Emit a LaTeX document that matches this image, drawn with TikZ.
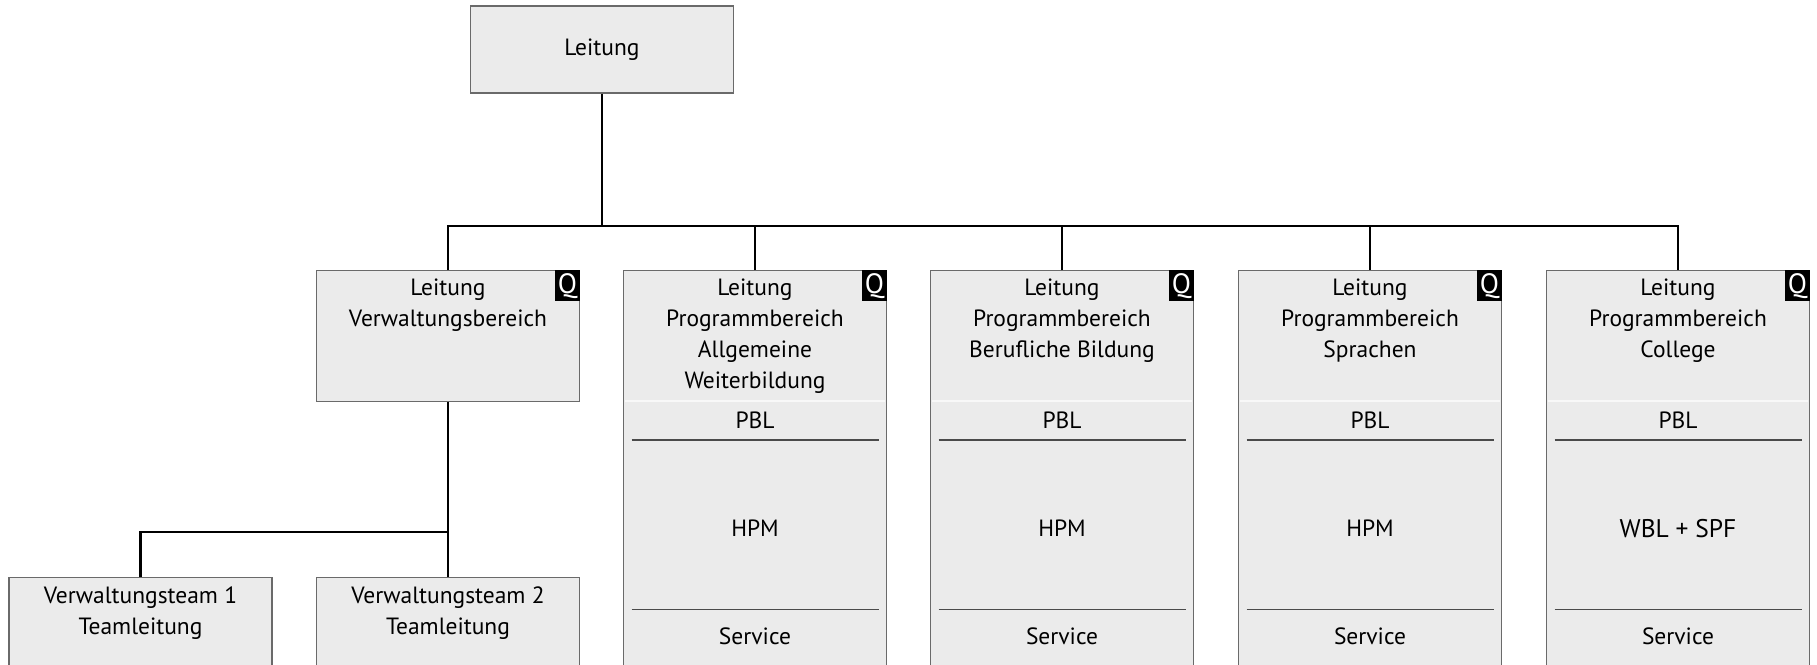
\documentclass[tikz,border=0pt]{standalone}
\usepackage{fontspec}
\setmainfont{PT Sans}
\usetikzlibrary{positioning}

\definecolor{boxfill}{HTML}{EBEBEB}
\definecolor{boxframe}{HTML}{6A6A6A}
\definecolor{sepgray}{HTML}{4A4A4A}
\definecolor{faintgray}{HTML}{F8F8F8}

\tikzset{
  orgbox/.style={draw=boxframe, line width=1.4pt, fill=boxfill, minimum width=263pt, inner sep=0pt, font=\fontsize{23.5}{31}\selectfont},
  orgtext/.style={align=center, inner sep=0pt, font=\fontsize{23.5}{31}\selectfont},
  qbadge/.style={fill=black, text=white, inner sep=0pt, minimum width=25pt, minimum height=31pt, font=\fontsize{28}{28}\selectfont},
  link/.style={line width=2.4pt},
  sepline/.style={draw=sepgray, line width=1.4pt},
  faintline/.style={draw=faintgray, line width=2pt},
}

% one column of a programme area: box, Q badge, title, PBL / middle / Service
\def\progbox(#1)(#2)#3#4{%
  \node[orgbox, anchor=north, minimum height=430pt] (#1) at (#2, 270) {};
  \node[qbadge, anchor=north east] (#1q) at (#1.north east) {Q};
  \node[orgtext, anchor=north] (#1title) at (#2, 279) {#3};
  \draw[faintline] (#2-130, 401) -- (#2+130, 401);
  \node[orgtext] (#1pbl) at (#2, 420) {PBL};
  \draw[sepline] (#2-123.5, 440) -- (#2+123.5, 440);
  \node[orgtext] (#1mid) at (#2, 528.5) {#4};
  \draw[sepline] (#2-123.5, 609.5) -- (#2+123.5, 609.5);
  \node[orgtext] (#1serv) at (#2, 636.5) {Service};
}

\begin{document}
\begin{tikzpicture}[x=1pt, y=-1pt]
  %%%%% START %%%%%
  \clip (0,0) rectangle (1817,664);

  \coordinate (bus) at (0, 226);
  \coordinate (split) at (0, 532);

  \node[orgbox, minimum height=87pt] (lead) at (602, 49.5) {Leitung};

  \node[orgbox, anchor=north, minimum height=131pt] (vb) at (448, 270) {};
  \node[qbadge, anchor=north east] (vbq) at (vb.north east) {Q};
  \node[orgtext, anchor=north] (vbtitle) at (448, 279) {Leitung\\Verwaltungsbereich};

  \progbox(pbA)(755){Leitung\\Programmbereich\\Allgemeine\\Weiterbildung}{HPM}
  \progbox(pbB)(1062){Leitung\\Programmbereich\\Berufliche Bildung}{HPM}
  \progbox(pbS)(1370){Leitung\\Programmbereich\\Sprachen}{HPM}
  \progbox(pbC)(1678){Leitung\\Programmbereich\\College}{\fontsize{25.5}{31}\selectfont WBL + SPF}

  \node[orgbox, anchor=north, minimum height=120pt] (vt1) at (140.5, 577) {};
  \node[orgtext, anchor=north] (vt1text) at (140.5, 587) {Verwaltungsteam 1\\Teamleitung};
  \node[orgbox, anchor=north, minimum height=120pt] (vt2) at (448, 577) {};
  \node[orgtext, anchor=north] (vt2text) at (448, 587) {Verwaltungsteam 2\\Teamleitung};

  % tree lines
  \draw[link] (lead.south) -- (lead.south |- bus);
  \draw[link] (vb.north) |- (pbC.north |- bus) -- (pbC.north);
  \foreach \col in {pbA,pbB,pbS}
    \draw[link] (\col.north) -- (\col.north |- bus);
  \draw[link] (vb.south) -- (vt2.north);
  \draw[link] (vt1.north) |- (vb.south |- split);
  %%%%% END %%%%%
\end{tikzpicture}
\end{document}
